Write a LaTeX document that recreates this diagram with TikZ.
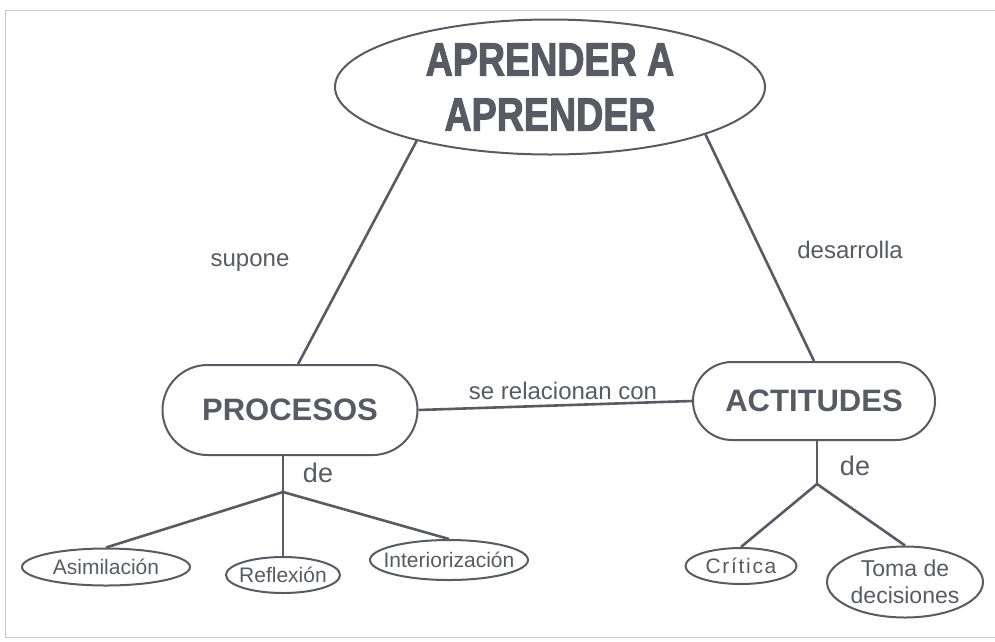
\documentclass[tikz,border=0pt]{standalone}
\usepackage{fontspec}
\setmainfont{Liberation Sans}
\newfontfamily\titlefont[FakeStretch=0.8,FakeBold=2]{Liberation Sans}
\usetikzlibrary{
  shapes.geometric,
  shapes.misc,
  positioning,
  calc
}
\definecolor{ink}{RGB}{88,90,100}
\definecolor{paperedge}{RGB}{200,202,210}
\newcommand\tight[1]{\makebox[0pt]{#1}}
\tikzset{
  concept/.style={draw=ink,line width=2pt,text=ink,inner sep=0pt},
  oval/.style={concept,ellipse},
  pill/.style={concept,rounded rectangle,font=\bfseries\fontsize{31}{31}\selectfont},
  leaf/.style={oval,font=\fontsize{21}{25}\selectfont},
  link/.style={draw=ink,line width=2.6pt},
  verb/.style={text=ink,font=\fontsize{24}{24}\selectfont}
}

\begin{document}
\begin{tikzpicture}[x=1pt,y=-1pt]
\useasboundingbox (0,0) rectangle (995,641);
\draw[paperedge,line width=1pt] (995,10) -- (5,10) -- (5,637) -- (995,637);
\node[oval,minimum width=430pt,minimum height=135pt,align=center,
  font=\titlefont\bfseries\fontsize{47}{55}\selectfont] (apr) at (550,87)
  {\tight{APRENDER A}\\\tight{APRENDER}};
\node[pill,minimum width=255pt,minimum height=90pt] (proc) at (290,410) {PROCESOS};
\node[pill,minimum width=242pt,minimum height=78pt] (actit) at (814,401) {ACTITUDES};
\node[leaf,minimum width=168pt,minimum height=37pt] (asim) at (106,567) {\tight{Asimilación}};
\node[leaf,minimum width=114pt,minimum height=36pt] (refl) at (283,575) {\tight{Reflexión}};
\node[leaf,minimum width=158pt,minimum height=40pt] (inter) at (449,560) {\tight{Interiorización}};
\node[leaf,minimum width=111pt,minimum height=36pt] (crit) at (741,566)
  {\tight{\addfontfeature{LetterSpace=8}Crítica}};
\node[leaf,minimum width=156pt,minimum height=71pt,align=center,
  font=\fontsize{23}{27}\selectfont] (toma) at (905,582)
  {\tight{Toma de}\\\tight{decisiones}};
\coordinate (pj) at (283,492);
\coordinate (aj) at (817,484);
\draw[link] (apr.202) -- (proc.80);
\draw[link] (apr.343) -- (actit.north);
\draw[link] (proc.east) -- (actit.west);
\draw[link] (proc.south -| pj) -- (pj);
\draw[link] (actit.south -| aj) -- (aj);
\foreach \child in {asim,refl,inter}
  \draw[link] (pj) -- (\child.north);
\foreach \child in {crit,toma}
  \draw[link] (aj) -- (\child.north);
\foreach \k/\pos/\txt in {%
  sup/{250,263}/supone,
  des/{850,250}/desarrolla,
  rel/{563,391}/se relacionan con%
} {
  \node[verb] (\k) at (\pos) {\txt};
}
\node[verb,font=\fontsize{27}{27}\selectfont] (pde) at (318,473) {de};
\node[verb,font=\fontsize{27}{27}\selectfont] (ade) at (855,466) {de};
\end{tikzpicture}
\end{document}
